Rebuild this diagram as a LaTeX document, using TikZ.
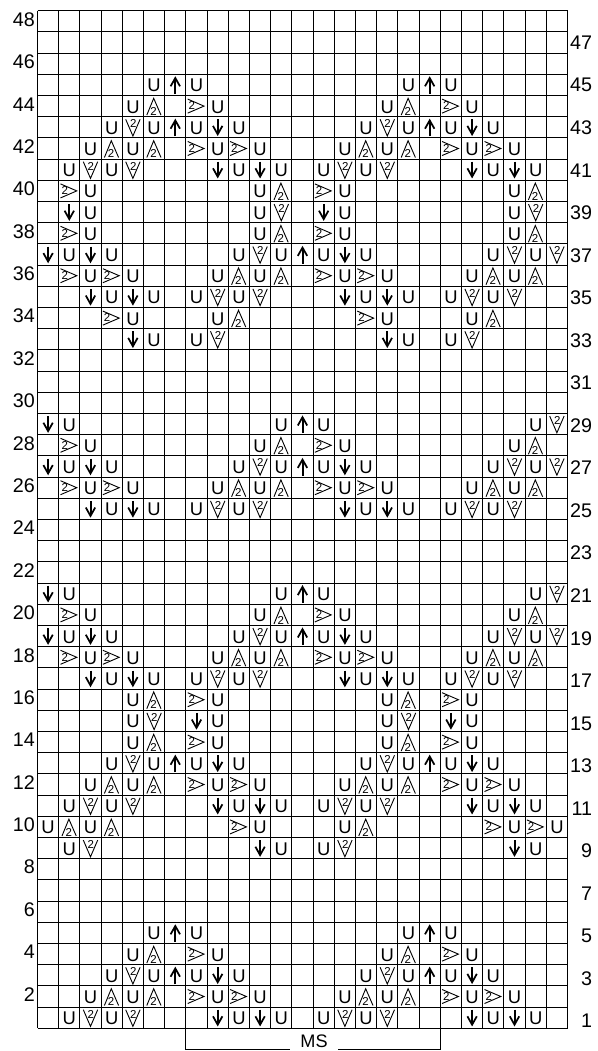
\documentclass[tikz,border=0pt]{standalone}
\usepackage{fontspec}
\setmainfont{Liberation Sans}
\newcommand\glyU[1]{\node[glyphU] (cell#1) at (0,0.8) {U};}
\newcommand\glyA[1]{\draw[tri] (-7.3,9) -- (-0.4,-7.8) -- (6.9,9);\node[two] (cell#1) at (-0.6,5.2) {2};}
\newcommand\glyV[1]{\draw[tri] (-7.2,-8) -- (0,8.7) -- (7.2,-8);\node[two] (cell#1) at (0.3,-3.6) {2};}
\newcommand\glyR[1]{\draw[tri] (-8.8,-7) -- (7.5,0) -- (-8.8,7);\node[two] (cell#1) at (-4.6,-0.2) {2};}
\newcommand\glyD[1]{\draw[shaft] (0,-8) -- (0,6);\draw[barb] (-4.7,-1.4) -- (0,7) -- (4.7,-1.4);}
\newcommand\glyN[1]{\draw[shaft] (0,9.1) -- (0,-6);\draw[barb] (-4.7,1.4) -- (0,-6.9) -- (4.7,1.4);}
\tikzset{
  gridline/.style={line width=0.78pt,draw=black},
  bracket/.style={line width=0.78pt,draw=black},
  glyphU/.style={inner sep=0pt,font=\fontsize{13.8pt}{13.8pt}\selectfont},
  two/.style={inner sep=0pt,font=\fontsize{8.6pt}{8.6pt}\selectfont},
  tri/.style={line width=0.68pt,draw=black,line join=miter},
  shaft/.style={line width=1.5pt,draw=black},
  barb/.style={line width=1.3pt,draw=black,line join=miter,miter limit=10},
  rowlabel/.style={inner sep=0pt,font=\fontsize{14.8pt}{14.8pt}\selectfont},
}
\begin{document}
\begin{tikzpicture}[x=0.75pt,y=-0.75pt]
\useasboundingbox (0,0) rectangle (598,1051);
\fill[white] (0,0) rectangle (598,1051);
% grid
\foreach \i in {0,...,48}{
  \pgfmathsetmacro\yy{10.7+\i*21.2}
  \draw[gridline] (37.5,\yy) -- (567.5,\yy);
}
\foreach \i in {0,...,25}{
  \pgfmathsetmacro\xx{37.5+\i*21.2}
  \draw[gridline] (\xx,10.7) -- (\xx,1028.3);
}
% row numbers
\foreach \r in {2,4,...,48}{
  \pgfmathsetmacro\yy{19.5+(48-\r)*21.19}
  \node[rowlabel,anchor=east] (even\r) at (35,\yy) {\r};
}
\foreach \r in {1,3,...,47}{
  \pgfmathsetmacro\yy{42.7+(47-\r)*21.27}
  \node[rowlabel,anchor=east] (odd\r) at (592.3,\yy) {\r};
}
% stitches
\foreach \r/\items in {
45/{U/6,N/7,U/8,U/18,N/19,U/20},
44/{U/5,A/6,R/8,U/9,U/17,A/18,R/20,U/21},
43/{U/4,V/5,U/6,N/7,U/8,D/9,U/10,U/16,V/17,U/18,N/19,U/20,D/21,U/22},
42/{U/3,A/4,U/5,A/6,R/8,U/9,R/10,U/11,U/15,A/16,U/17,A/18,R/20,U/21,R/22,U/23},
41/{U/2,V/3,U/4,V/5,D/9,U/10,D/11,U/12,U/14,V/15,U/16,V/17,D/21,U/22,D/23,U/24},
40/{R/2,U/3,U/11,A/12,R/14,U/15,U/23,A/24},
39/{D/2,U/3,U/11,V/12,D/14,U/15,U/23,V/24},
38/{R/2,U/3,U/11,A/12,R/14,U/15,U/23,A/24},
37/{D/1,U/2,D/3,U/4,U/10,V/11,U/12,N/13,U/14,D/15,U/16,U/22,V/23,U/24,V/25},
36/{R/2,U/3,R/4,U/5,U/9,A/10,U/11,A/12,R/14,U/15,R/16,U/17,U/21,A/22,U/23,A/24},
35/{D/3,U/4,D/5,U/6,U/8,V/9,U/10,V/11,D/15,U/16,D/17,U/18,U/20,V/21,U/22,V/23},
34/{R/4,U/5,U/9,A/10,R/16,U/17,U/21,A/22},
33/{D/5,U/6,U/8,V/9,D/17,U/18,U/20,V/21},
29/{D/1,U/2,U/12,N/13,U/14,U/24,V/25},
28/{R/2,U/3,U/11,A/12,R/14,U/15,U/23,A/24},
27/{D/1,U/2,D/3,U/4,U/10,V/11,U/12,N/13,U/14,D/15,U/16,U/22,V/23,U/24,V/25},
26/{R/2,U/3,R/4,U/5,U/9,A/10,U/11,A/12,R/14,U/15,R/16,U/17,U/21,A/22,U/23,A/24},
25/{D/3,U/4,D/5,U/6,U/8,V/9,U/10,V/11,D/15,U/16,D/17,U/18,U/20,V/21,U/22,V/23},
21/{D/1,U/2,U/12,N/13,U/14,U/24,V/25},
20/{R/2,U/3,U/11,A/12,R/14,U/15,U/23,A/24},
19/{D/1,U/2,D/3,U/4,U/10,V/11,U/12,N/13,U/14,D/15,U/16,U/22,V/23,U/24,V/25},
18/{R/2,U/3,R/4,U/5,U/9,A/10,U/11,A/12,R/14,U/15,R/16,U/17,U/21,A/22,U/23,A/24},
17/{D/3,U/4,D/5,U/6,U/8,V/9,U/10,V/11,D/15,U/16,D/17,U/18,U/20,V/21,U/22,V/23},
16/{U/5,A/6,R/8,U/9,U/17,A/18,R/20,U/21},
15/{U/5,V/6,D/8,U/9,U/17,V/18,D/20,U/21},
14/{U/5,A/6,R/8,U/9,U/17,A/18,R/20,U/21},
13/{U/4,V/5,U/6,N/7,U/8,D/9,U/10,U/16,V/17,U/18,N/19,U/20,D/21,U/22},
12/{U/3,A/4,U/5,A/6,R/8,U/9,R/10,U/11,U/15,A/16,U/17,A/18,R/20,U/21,R/22,U/23},
11/{U/2,V/3,U/4,V/5,D/9,U/10,D/11,U/12,U/14,V/15,U/16,V/17,D/21,U/22,D/23,U/24},
10/{U/1,A/2,U/3,A/4,R/10,U/11,U/15,A/16,R/22,U/23,R/24,U/25},
9/{U/2,V/3,D/11,U/12,U/14,V/15,D/23,U/24},
5/{U/6,N/7,U/8,U/18,N/19,U/20},
4/{U/5,A/6,R/8,U/9,U/17,A/18,R/20,U/21},
3/{U/4,V/5,U/6,N/7,U/8,D/9,U/10,U/16,V/17,U/18,N/19,U/20,D/21,U/22},
2/{U/3,A/4,U/5,A/6,R/8,U/9,R/10,U/11,U/15,A/16,U/17,A/18,R/20,U/21,R/22,U/23},
1/{U/2,V/3,U/4,V/5,D/9,U/10,D/11,U/12,U/14,V/15,U/16,V/17,D/21,U/22,D/23,U/24}}{
  \foreach \s/\c in \items {
    \pgfmathsetmacro\xx{37.5+(\c-0.5)*21.2}
    \pgfmathsetmacro\yy{10.7+(48.5-\r)*21.2}
    \begin{scope}[shift={(\xx,\yy)}]
      \csname gly\s\endcsname{\r-\c}
    \end{scope}
  }
}
% MS bracket
\node[inner sep=0pt,anchor=base,font=\fontsize{13.6pt}{13.6pt}\selectfont] (ms) at (314,1047.5) {MS};
\coordinate (bl) at (185.9,1028.3);
\coordinate (blh) at (290,1049.3);
\coordinate (br) at (440.3,1028.3);
\coordinate (brh) at (337.7,1049.3);
\draw[bracket] (bl) |- (blh);
\draw[bracket] (br) |- (brh);
\end{tikzpicture}
\end{document}
